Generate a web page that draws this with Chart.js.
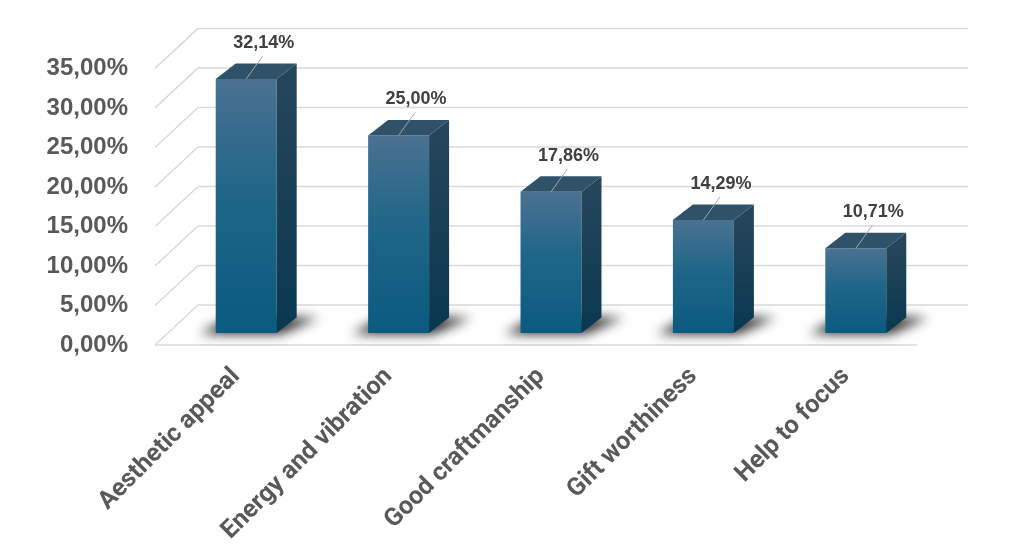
<!DOCTYPE html>
<html>
<head>
<meta charset="utf-8">
<script src="https://cdn.jsdelivr.net/npm/chart.js@4.4.1/dist/chart.umd.min.js"></script>
<style>
  html, body { margin: 0; background: #fff; }
  #wrap { width: 1024px; height: 558px; }
</style>
</head>
<body>
<div id="wrap"><canvas id="chart"></canvas></div>
<script>
const categories = ["Aesthetic appeal", "Energy and vibration", "Good craftmanship", "Gift worthiness", "Help to focus"];
const shares = [32.14, 25.00, 17.86, 14.29, 10.71];
const yTicks = [0, 5, 10, 15, 20, 25, 30, 35];

const fmt = v => v.toFixed(2).replace(".", ",") + "%";

// fake 3d: offsets from the plane the bars stand in
const FRONT = { dx: -15, dy: 12 };
const BACK = { dxL: 28, dxR: 36, dy: -28 };
const DEPTH = { dx: 20, dy: -15.5 };

function line(ctx, x1, y1, x2, y2) {
  ctx.beginPath();
  ctx.moveTo(x1, y1);
  ctx.lineTo(x2, y2);
  ctx.stroke();
}

function poly(ctx, pts, fill) {
  ctx.beginPath();
  ctx.moveTo(pts[0][0], pts[0][1]);
  pts.slice(1).forEach(p => ctx.lineTo(p[0], p[1]));
  ctx.closePath();
  ctx.fillStyle = fill;
  ctx.fill();
}

const walls = {
  id: "walls",
  beforeDatasetsDraw(chart) {
    const { ctx, chartArea: a } = chart;
    const ys = chart.scales.y;
    ctx.save();
    ctx.strokeStyle = "#d9d9d9";
    ctx.lineWidth = 1.5;
    yTicks.forEach(v => {
      const py = ys.getPixelForValue(v);
      line(ctx, a.left + FRONT.dx, py + FRONT.dy, a.left + BACK.dxL, py + BACK.dy);
      line(ctx, a.left + BACK.dxL, py + BACK.dy, a.right + BACK.dxR, py + BACK.dy);
    });
    const y0 = ys.getPixelForValue(0);
    line(ctx, a.left + FRONT.dx, y0 + FRONT.dy, a.right + FRONT.dx, y0 + FRONT.dy);

    // floor shadows under the bars
    const meta = chart.getDatasetMeta(0);
    ctx.filter = "blur(6px)";
    meta.data.forEach(bar => {
      const { x, base, width } = bar.getProps(["x", "base", "width"], true);
      const l = x - width / 2, r = x + width / 2;
      poly(ctx, [
        [l - 16, base + 1], [r + 4, base + 1],
        [r + DEPTH.dx + 22, base + DEPTH.dy], [l + DEPTH.dx - 6, base + DEPTH.dy]
      ], "rgba(0,0,0,0.85)");
    });
    ctx.restore();
  },
  afterDatasetsDraw(chart) {
    const { ctx } = chart;
    const meta = chart.getDatasetMeta(0);
    ctx.save();
    meta.data.forEach((bar, i) => {
      const { x, y, base, width } = bar.getProps(["x", "y", "base", "width"], true);
      const l = x - width / 2, r = x + width / 2;
      const side = ctx.createLinearGradient(0, y, 0, base);
      side.addColorStop(0, "#25455b");
      side.addColorStop(1, "#093850");
      poly(ctx, [[r, y], [r + DEPTH.dx, y + DEPTH.dy], [r + DEPTH.dx, base + DEPTH.dy], [r, base]], side);
      poly(ctx, [[l, y], [r, y], [r + DEPTH.dx, y + DEPTH.dy], [l + DEPTH.dx, y + DEPTH.dy]], "#2f5269");

      // data label with leader line
      const lx = x + 17.5, ly = y - 36;
      ctx.strokeStyle = "#a6a6a6";
      ctx.lineWidth = 1;
      line(ctx, lx - 1, ly + 13, x, y);
      ctx.font = "bold 18px 'Liberation Sans', Arial, sans-serif";
      ctx.fillStyle = "#404040";
      ctx.textAlign = "center";
      ctx.textBaseline = "middle";
      ctx.fillText(fmt(shares[i]), lx, ly);
    });
    ctx.restore();
  }
};

new Chart(document.getElementById("chart"), {
  type: "bar",
  data: {
    labels: categories,
    datasets: [{
      data: shares,
      barPercentage: 0.4,
      categoryPercentage: 1,
      borderWidth: 0,
      backgroundColor: c => {
        const chart = c.chart;
        if (!chart.chartArea) return "#1a6087";
        const ys = chart.scales.y;
        const top = ys.getPixelForValue(shares[c.dataIndex]);
        const bot = ys.getPixelForValue(0);
        const g = chart.ctx.createLinearGradient(0, top, 0, bot);
        g.addColorStop(0, "#4b7191");
        g.addColorStop(0.45, "#1f6688");
        g.addColorStop(1, "#0b5a80");
        return g;
      }
    }]
  },
  options: {
    responsive: true,
    maintainAspectRatio: false,
    animation: false,
    layout: { padding: { top: 56, right: 92, bottom: 0, left: 0 } },
    plugins: { legend: { display: false }, tooltip: { enabled: false } },
    scales: {
      x: {
        grid: { display: false },
        border: { display: false },
        ticks: {
          minRotation: 45,
          maxRotation: 45,
          padding: 21,
          labelOffset: -10,
          color: "#595959",
          font: { family: "Roboto, 'Noto Sans', sans-serif", weight: "bold", size: 25 }
        },
        afterFit: s => { s.height = 225; }
      },
      y: {
        min: 0,
        max: 35,
        grid: { display: false, drawTicks: false, tickLength: 0 },
        border: { display: false },
        ticks: {
          stepSize: 5,
          padding: 42,
          labelOffset: 12,
          color: "#595959",
          font: { family: "'Liberation Sans', Arial, sans-serif", weight: "bold", size: 24 },
          callback: v => fmt(v)
        },
        afterFit: s => { s.width = 170; }
      }
    }
  },
  plugins: [walls]
});
</script>
</body>
</html>
